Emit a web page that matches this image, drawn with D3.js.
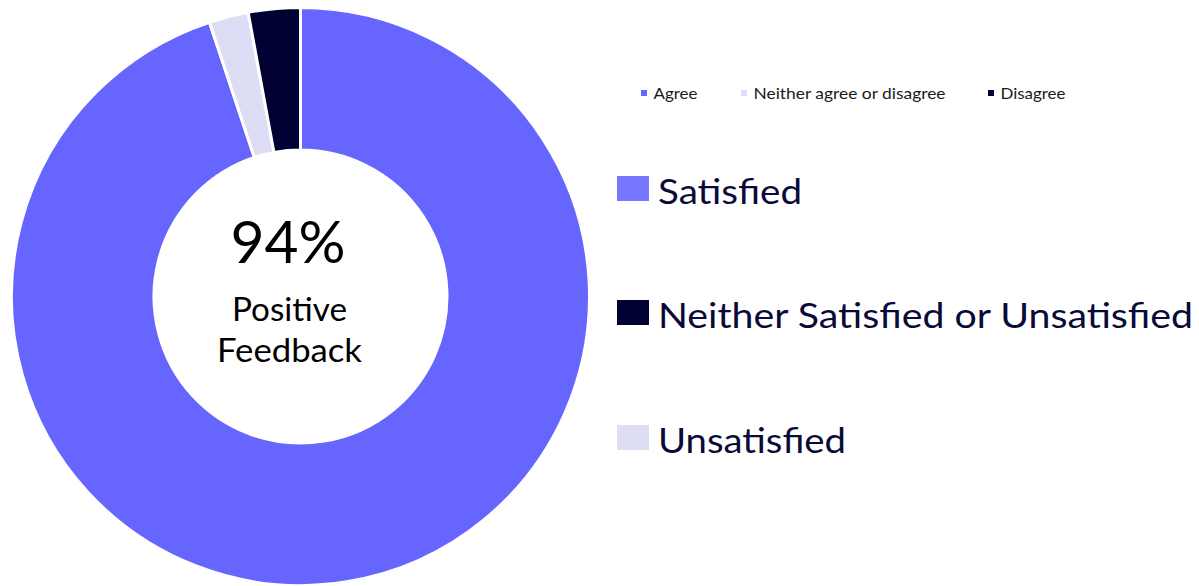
<!DOCTYPE html>
<html>
<head>
<meta charset="utf-8">
<script src="https://cdn.jsdelivr.net/npm/d3@7"></script>
<style>
  html, body { margin: 0; padding: 0; background: #ffffff; }
  svg { display: block; }
  text { font-family: "Lato", "Open Sans", sans-serif; }
</style>
</head>
<body>
<div id="chart"></div>
<script>
// ---- Data ----
const categories = ["Agree", "Neither agree or disagree", "Disagree"];
const values = [94.9, 2.2, 2.9];
const sliceColors = ["#6666FF", "#DDDDF5", "#000033"];

const satisfactionLabels = ["Satisfied", "Neither Satisfied or Unsatisfied", "Unsatisfied"];
const satisfactionColors = ["#7777FF", "#000033", "#DDDDF5"];

const centerValue = "94%";
const centerCaption = ["Positive", "Feedback"];

// ---- Layout ----
const W = 1199, H = 586;
const cx = 300.5, cy = 296.5;
const outerR = 289, innerR = 146.5;

const svg = d3.select("#chart").append("svg")
  .attr("width", W).attr("height", H);

const color = d3.scaleOrdinal().domain(categories).range(sliceColors);

const pie = d3.pie().sort(null).value(d => d.value);
const arc = d3.arc().innerRadius(innerR).outerRadius(outerR);

const data = categories.map((c, i) => ({ name: c, value: values[i] }));

svg.append("g")
  .attr("transform", `translate(${cx},${cy})`)
  .selectAll("path")
  .data(pie(data))
  .join("path")
  .attr("d", arc)
  .attr("fill", d => color(d.data.name))
  .attr("stroke", "#ffffff")
  .attr("stroke-width", 3)
  .attr("stroke-linejoin", "miter");

// ---- Center text ----
const ctr = svg.append("g");
ctr.append("text")
  .attr("x", 288).attr("y", 263)
  .attr("text-anchor", "middle")
  .attr("font-size", 58)
  .attr("fill", "#000000")
  .attr("textLength", 115).attr("lengthAdjust", "spacingAndGlyphs")
  .text(centerValue);
const capW = [115, 145];
const capY = [321, 362];
centerCaption.forEach((t, i) => {
  ctr.append("text")
    .attr("x", 289.5).attr("y", capY[i])
    .attr("text-anchor", "middle")
    .attr("font-size", 32.5)
    .attr("fill", "#000000")
    .attr("textLength", capW[i]).attr("lengthAdjust", "spacingAndGlyphs")
    .text(t);
});

// ---- Top legend (series) ----
const topLegX = [641, 741, 988];
const topTextW = [44, 192, 65];
const topLeg = svg.append("g");
categories.forEach((c, i) => {
  topLeg.append("rect")
    .attr("x", topLegX[i]).attr("y", 90)
    .attr("width", 6).attr("height", 6)
    .attr("fill", color(c));
  topLeg.append("text")
    .attr("x", topLegX[i] + 12.5).attr("y", 98.5)
    .attr("font-size", 16)
    .attr("fill", "#1a1a1a")
    .attr("textLength", topTextW[i]).attr("lengthAdjust", "spacingAndGlyphs")
    .text(c);
});

// ---- Side legend ----
const sideY = [176, 300, 425];
const sideTextW = [144, 535, 188];
const side = svg.append("g");
satisfactionLabels.forEach((l, i) => {
  side.append("rect")
    .attr("x", 617).attr("y", sideY[i])
    .attr("width", 32).attr("height", 25)
    .attr("fill", satisfactionColors[i]);
  side.append("text")
    .attr("x", 658).attr("y", sideY[i] + 28)
    .attr("font-size", 35)
    .attr("fill", "#0a0a38")
    .attr("textLength", sideTextW[i]).attr("lengthAdjust", "spacingAndGlyphs")
    .text(l);
});
</script>
</body>
</html>
